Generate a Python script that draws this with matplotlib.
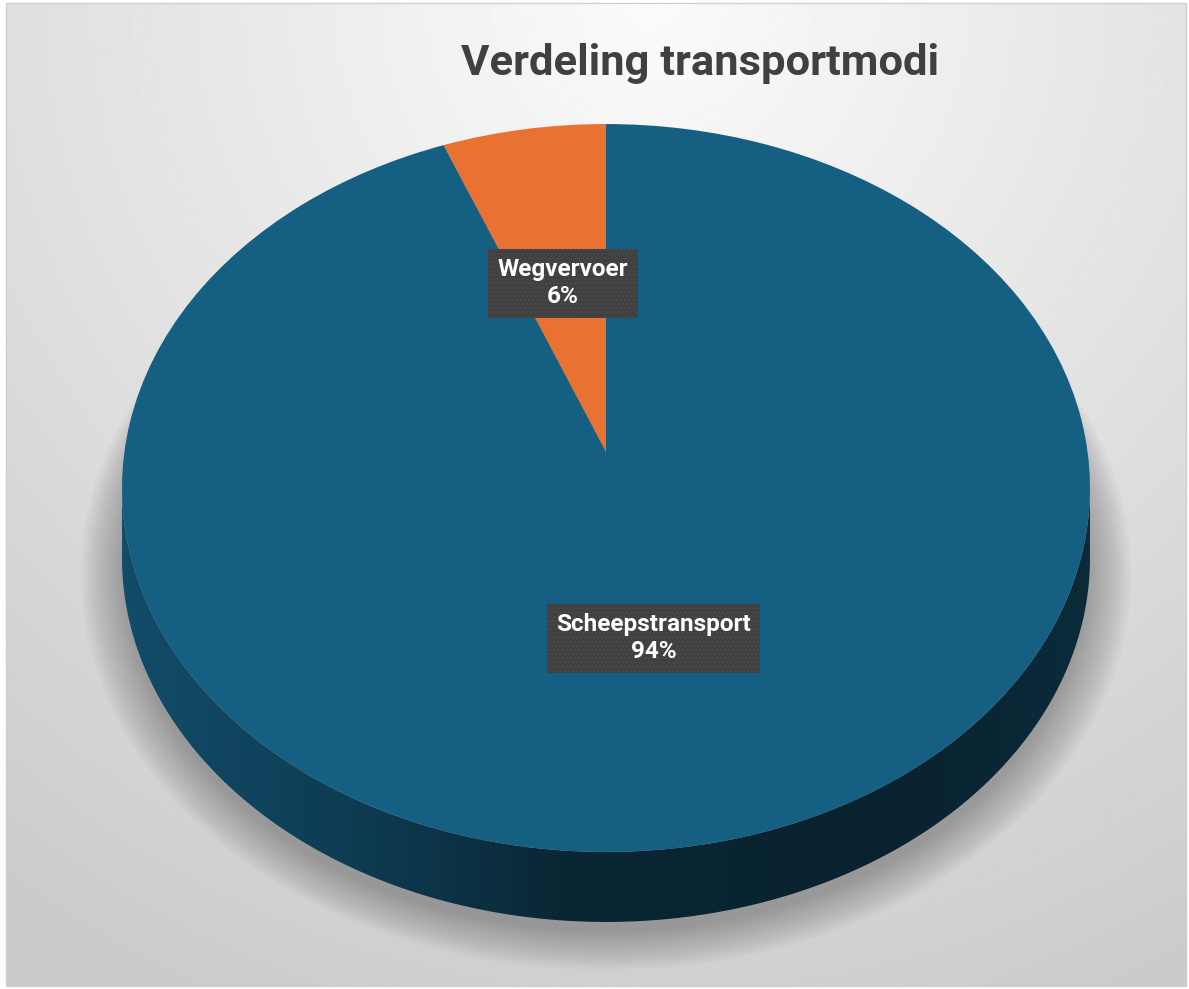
import numpy as np
import matplotlib
matplotlib.use("Agg")
import matplotlib.pyplot as plt
from matplotlib import transforms as mtransforms
from matplotlib.patches import Circle, Polygon, Rectangle
from matplotlib.colors import LinearSegmentedColormap

# data
modes = ["Wegvervoer", "Scheepstransport"]
shares = [6, 94]
colors = ["#E97132", "#156082"]
title = "Verdeling transportmodi"

W, H = 1189, 989


class Perspective(mtransforms.Transform):
    """Unit circle -> tilted (perspective) ellipse in pixel-like data coords."""
    input_dims = output_dims = 2
    is_separable = False
    has_inverse = False

    def __init__(self, cx, cy, rx, ry, tilt):
        super().__init__()
        self.cx, self.cy, self.rx, self.ry, self.tilt = cx, cy, rx, ry, tilt

    def transform_non_affine(self, values):
        values = np.asarray(values, dtype=float)
        u, v = values[:, 0], values[:, 1]
        w = 1 + self.tilt * v
        return np.column_stack([self.cx + self.rx * u / w, self.cy + self.ry * v / w])


def main():
    plt.rcParams["font.family"] = ["Roboto", "DejaVu Sans"]
    fig = plt.figure(figsize=(W / 100, H / 100), dpi=100, facecolor="white")
    ax = fig.add_axes([0, 0, 1, 1])

    tilt = 0.0989
    persp = Perspective(606, H - 452, 481.6, 360.4, tilt)
    depth = 70

    # background gradient, light at top centre
    yy, xx = np.mgrid[0:H:2, 0:W:2]
    dist = np.hypot(xx - 650, yy - H)
    shade = 0.985 - 0.19 * np.clip(dist / 1100, 0, 1) ** 1.0
    ax.imshow(shade, cmap="gray", vmin=0, vmax=1, extent=(6, W - 3, 3, H - 3),
              origin="lower", zorder=0, interpolation="bilinear")
    ax.add_patch(Rectangle((6, 3), W - 9, H - 6, fill=False, ec="#cfcfcf", lw=1, zorder=1))

    # soft shadow under the pie
    for r in np.linspace(1.085, 1.0, 18):
        ax.add_patch(Circle((0, 0), r, fc="black", ec="none", alpha=0.016, zorder=2,
                            transform=persp + mtransforms.Affine2D().translate(0, -80) + ax.transData))

    # side of the cylinder
    theta = np.linspace(np.pi + np.arcsin(tilt), 2 * np.pi - np.arcsin(tilt), 300)
    top = persp.transform(np.column_stack([np.cos(theta), np.sin(theta)]))
    bottom = top - np.array([0, depth])
    verts = np.vstack([top, bottom[::-1]])
    side = Polygon(verts, closed=True, transform=ax.transData, fc="none", ec="none")
    ax.add_patch(side)
    side_cmap = LinearSegmentedColormap.from_list(
        "side", [(0, "#124c69"), (0.25, "#0e3b52"), (0.45, "#0a2735"),
                 (0.8, "#09222f"), (1, "#0b2b3b")])
    grad = np.linspace(0, 1, 256)[None, :]
    im = ax.imshow(grad, cmap=side_cmap, aspect="auto", zorder=3,
                   extent=(verts[:, 0].min(), verts[:, 0].max(), verts[:, 1].min(), verts[:, 1].max()))
    im.set_clip_path(side)

    # top face
    labels = [f"{m}\n{s}%" for m, s in zip(modes, shares)]
    wedges, texts = ax.pie(shares, labels=labels, colors=colors, startangle=90,
                           counterclock=True, labeldistance=0.5,
                           wedgeprops=dict(linewidth=0),
                           textprops=dict(color="white", fontsize=17.5, fontweight="bold"))
    for w in wedges:
        w.set_transform(persp + ax.transData)
        w.set_zorder(4)
    for t in texts:
        t.set_transform(persp + ax.transData)
        t.set_ha("center")
        t.set_va("center")
        t.set_linespacing(1.25)
        t.set_zorder(5)
        t.set_bbox(dict(boxstyle="square,pad=0.38", fc="#404040", ec="#4a4a4a",
                        lw=0, hatch="...."))

    ax.text(700, H - 63, title, ha="center", va="center", fontsize=31.3,
            fontweight="bold", color="#404040", zorder=5)

    ax.set_aspect("auto")
    ax.set_xlim(0, W)
    ax.set_ylim(0, H)
    ax.axis("off")
    fig.savefig("out.png", dpi=100, facecolor="white")


if __name__ == "__main__":
    main()
